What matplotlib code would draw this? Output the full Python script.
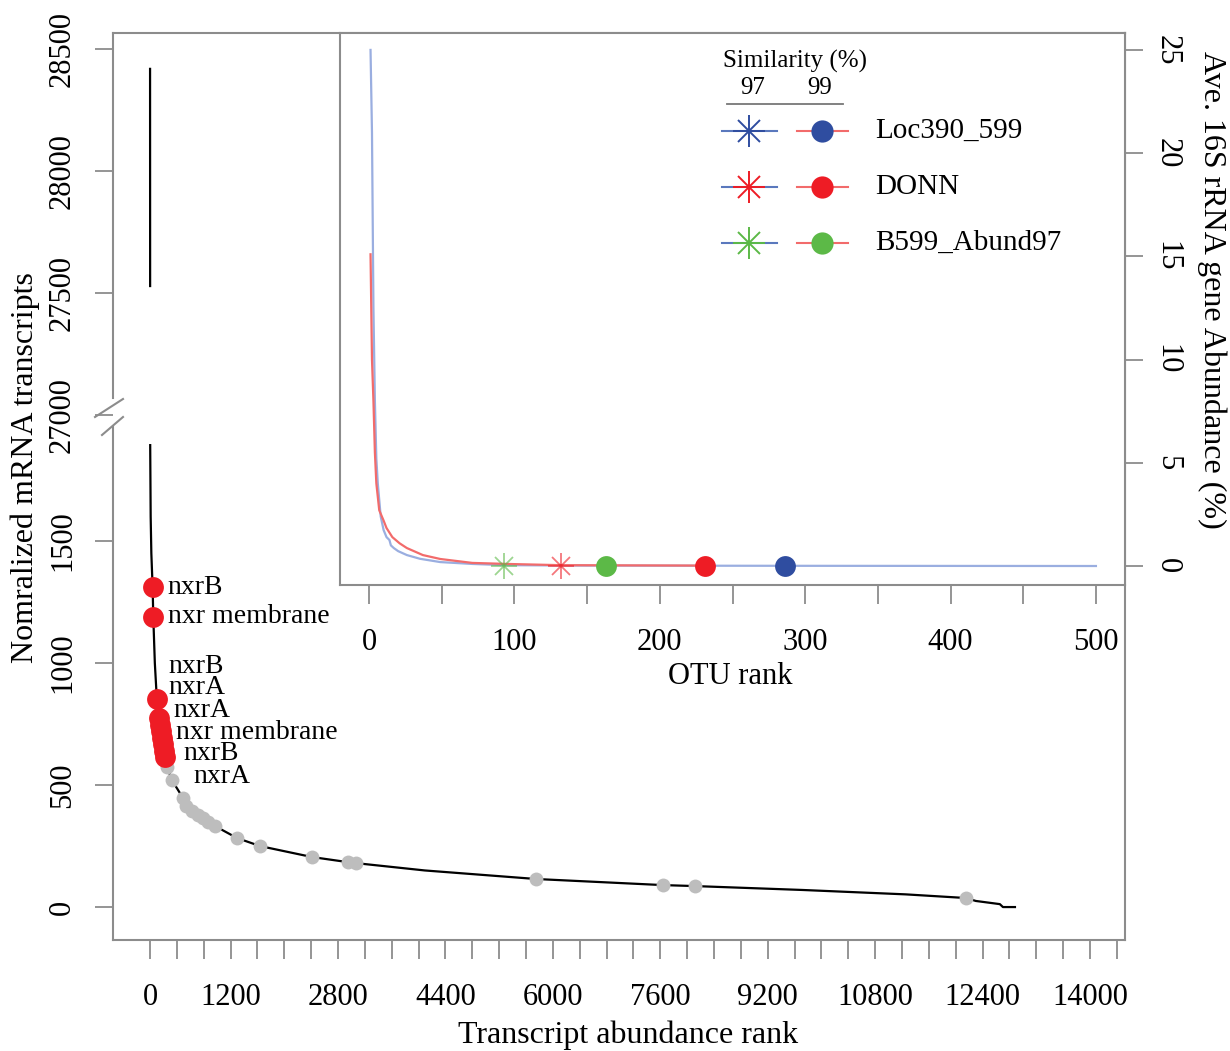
import numpy as np
import matplotlib
matplotlib.use('Agg')
import matplotlib.pyplot as plt
from matplotlib.lines import Line2D

plt.rcParams['font.family'] = ['Liberation Serif', 'DejaVu Serif']

# Main plot: transcript abundance curve (broken y axis 2000 -> 27000)
top_rank = [1, 2]
top_val = [28420, 27530]

line_rank = [3, 10, 20, 39, 49, 72, 102, 133, 164, 194, 225, 253, 327, 491, 536, 625,
             715, 789, 864, 968, 1295, 1638, 2413, 2949, 3069, 4093, 5749, 7640, 8117,
             9720, 11255, 12154, 12299, 12657, 12703, 12882]
line_val = [1893, 1600, 1450, 1311, 1189, 1000, 852, 775, 721, 667, 615, 574, 520, 447,
            414, 393, 377, 365, 348, 332, 283, 250, 205, 184, 180, 150, 115, 90, 86,
            70, 52, 37, 25, 12, 0, 0]

red_rank = [39, 49, 102, 133, 148, 164, 179, 194, 210, 225]
red_val = [1311, 1189, 852, 775, 748, 721, 694, 667, 641, 615]

gray_rank = [253, 327, 491, 536, 625, 715, 789, 864, 968, 1295, 1638, 2413, 2949, 3069,
             5749, 7640, 8117, 12154]
gray_val = [574, 520, 447, 414, 393, 377, 365, 348, 332, 283, 250, 205, 184, 180,
            115, 90, 86, 37]

gene_labels = ['nxrB', 'nxr membrane', 'nxrB', 'nxrA', 'nxrA', 'nxr membrane', 'nxrB', 'nxrA']
label_x = [253, 268, 268, 268, 343, 387, 491, 641]
label_y = [1311, 1189, 984, 898, 807, 717, 631, 537]

ytick_vals = [0, 500, 1000, 1500, 27000, 27500, 28000, 28500]
xtick_vals = np.arange(0, 14401, 400)
xtick_shown = [0, 1200, 2800, 4400, 6000, 7600, 9200, 10800, 12400, 14000]

# Inset: OTU rank abundance curves
blue_rank = [1, 2, 3, 4, 5, 6, 7, 8, 10, 12, 14, 15, 17, 20, 26, 35, 49, 71, 94, 150, 286, 500]
blue_val = [25, 21, 12.5, 8.0, 5.2, 4.0, 3.2, 2.4, 1.74, 1.4, 1.26, 1.0, 0.87, 0.72, 0.53,
            0.35, 0.19, 0.1, 0.04, 0.02, 0.01, 0.0]
red_line_rank = [1, 2, 3, 4, 5, 7, 10, 12, 16, 21, 26, 37, 49, 71, 95, 132, 231]
red_line_val = [15.1, 10, 8.0, 5.5, 4.0, 2.7, 2.2, 1.84, 1.4, 1.1, 0.87, 0.53, 0.34, 0.15,
                0.1, 0.04, 0.02]

otus = ['Loc390_599', 'DONN', 'B599_Abund97']
otu_colors = ['#2f4da0', '#ee1c25', '#5cb947']
rank97 = [None, 132, 93]
rank99 = [286, 231, 163]

GAP_SHIFT = 24985
GREY = '#8c8c8c'
W, H = 1230, 1051


def fold(v):
    v = np.asarray(v, dtype=float)
    return np.where(v > 2000, v - GAP_SHIFT, v)


def fx(px):
    return px / W


def fy(py):
    return 1 - py / H


fig = plt.figure(figsize=(W / 100, H / 100), dpi=100)
ax = fig.add_axes([fx(113), fy(940), (1125 - 113) / W, (940 - 33) / H])

ax.plot(top_rank, fold(top_val), color='black', lw=1.6)
ax.plot(line_rank, fold(line_val), color='black', lw=1.6, zorder=2)
ax.plot(gray_rank, gray_val, 'o', color='#bdbdbd', ms=10, mec='none', zorder=3)
ax.plot(red_rank, red_val, 'o', color='#ee1c25', ms=15, mec='none', zorder=4)
for t, x, y in zip(gene_labels, label_x, label_y):
    ax.text(x, y, t, fontsize=20, ha='left', va='center')

ax.set_xlim(-551, 14521)
ax.set_ylim(-135, 3582)
ax.set_xticks(xtick_vals, labels=[str(v) if v in xtick_shown else '' for v in xtick_vals])
ax.set_yticks(fold(ytick_vals), labels=[str(v) for v in ytick_vals])
ax.tick_params(axis='x', length=14, width=1.3, color=GREY, pad=17, labelsize=22)
ax.tick_params(axis='y', length=13, width=1.3, color=GREY, pad=13, labelsize=22,
               labelrotation=90)
for lab in ax.get_yticklabels():
    lab.set_va('center')
for s in ['top', 'right', 'bottom']:
    ax.spines[s].set_color(GREY)
    ax.spines[s].set_linewidth(1.5)
ax.spines['left'].set_visible(False)

# broken left spine with slash marks
fig.add_artist(Line2D([fx(113), fx(113)], [fy(33), fy(398)], color=GREY, lw=1.5))
fig.add_artist(Line2D([fx(113), fx(113)], [fy(427), fy(940)], color=GREY, lw=1.5))
fig.add_artist(Line2D([fx(95), fx(123)], [fy(417), fy(399)], color=GREY, lw=1.5))
fig.add_artist(Line2D([fx(102), fx(123)], [fy(435), fy(417)], color=GREY, lw=1.5))

fig.text(fx(25), fy(468), 'Nomralized mRNA transcripts', rotation=90, fontsize=23,
         ha='center', va='center')
fig.text(fx(628), fy(1035), 'Transcript abundance rank', fontsize=23,
         ha='center', va='center')

# inset
ins = fig.add_axes([fx(340), fy(585), (1125 - 340) / W, (585 - 33) / H])
ins.set_facecolor('white')
ins.plot(blue_rank, blue_val, color='#9aaee0', lw=1.6, zorder=2)
ins.plot(red_line_rank, red_line_val, color='#f26b6b', lw=1.6, zorder=3)
for c, r97, r99 in zip(otu_colors, rank97, rank99):
    if r97 is not None:
        light = c + '99'
        ins.plot(r97, 0, marker='+', color=light, ms=19, mew=1.3, zorder=4)
        ins.plot(r97, 0, marker='x', color=light, ms=13, mew=1.3, zorder=4)
    ins.plot(r99, 0, 'o', color=c, ms=15, mec='none', zorder=5)

ins.set_xlim(-20, 520)
ins.set_ylim(-0.92, 25.82)
ins.set_xticks(range(0, 501, 50), labels=[str(v) if v % 100 == 0 else '' for v in range(0, 501, 50)])
ins.yaxis.tick_right()
ins.set_yticks(range(0, 26, 5))
ins.tick_params(axis='x', length=14, width=1.3, color=GREY, pad=17, labelsize=22)
ins.tick_params(axis='y', length=13, width=1.3, color=GREY, pad=7, labelsize=22,
                labelrotation=-90)
for lab in ins.get_yticklabels():
    lab.set_va('center')
for s in ins.spines.values():
    s.set_color(GREY)
    s.set_linewidth(1.5)

fig.text(fx(730), fy(677), 'OTU rank', fontsize=22, ha='center', va='center')
fig.text(fx(1212), fy(290), 'Ave. 16S rRNA gene Abundance (%)', rotation=-90,
         fontsize=23, ha='center', va='center')

# hand-made legend
fig.text(fx(795), fy(61), 'Similarity (%)', fontsize=18, ha='center', va='center')
fig.text(fx(753), fy(88), '97', fontsize=18, ha='center', va='center')
fig.text(fx(820), fy(88), '99', fontsize=18, ha='center', va='center')
fig.add_artist(Line2D([fx(727), fx(843)], [fy(104), fy(104)], color='#777777', lw=1.3))
for i, (name, c) in enumerate(zip(otus, otu_colors)):
    yy = fy(131 + 56 * i)
    fig.add_artist(Line2D([fx(722), fx(777)], [yy, yy], color='#5a78bd', lw=1.5))
    fig.add_artist(Line2D([fx(749)], [yy], marker='+', color=c, ms=23, mew=1.4, ls='none'))
    fig.add_artist(Line2D([fx(749)], [yy], marker='x', color=c, ms=16, mew=1.4, ls='none'))
    fig.add_artist(Line2D([fx(797), fx(848)], [yy, yy], color='#f26b6b', lw=1.5))
    fig.add_artist(Line2D([fx(822)], [yy], marker='o', color=c, ms=16, mec='none', ls='none'))
    fig.text(fx(875), yy, name, fontsize=21, ha='left', va='center')

fig.savefig('out.png', dpi=100)
